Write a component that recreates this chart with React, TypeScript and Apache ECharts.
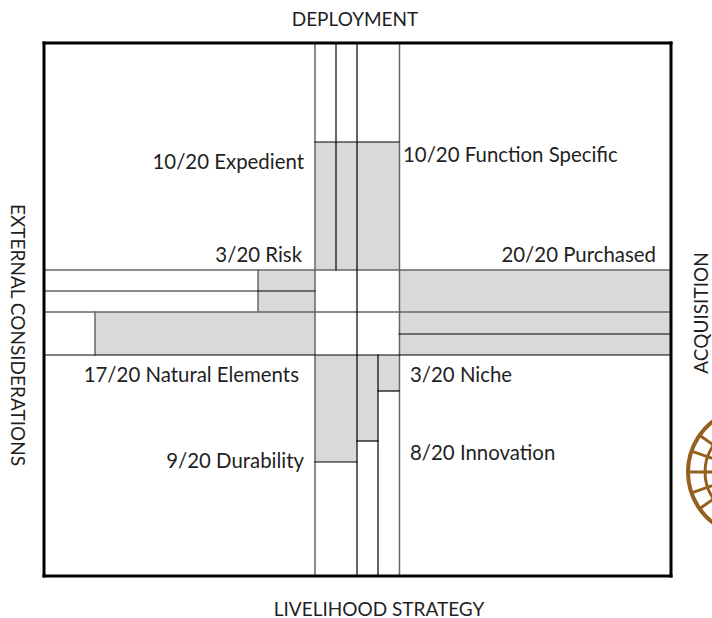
import React, { useEffect, useRef } from "react";
import * as echarts from "echarts";

const FONT = "Lato, 'Open Sans', sans-serif";

// All values in chart units: x runs 0..627 across the frame, y runs 0..533 downward.
const X_MAX = 627;
const Y_MAX = 533;

// shaded cells: [x0, y0, x1, y1]
const expedientCells = [
  [271, 99, 292, 227],
  [292, 99, 313, 227],
];
const functionSpecificCells = [[313, 99, 355, 227]];
const riskCells = [[214, 227, 271, 269]];
const naturalElementsCells = [[51, 269, 271, 312]];
const purchasedCells = [[355, 227, 627, 312]];
const durabilityCells = [[271, 312, 313, 419]];
const innovationCells = [[313, 312, 334, 398]];
const nicheCells = [[334, 312, 355, 348]];
const shadedCells = [
  ...expedientCells,
  ...functionSpecificCells,
  ...riskCells,
  ...naturalElementsCells,
  ...purchasedCells,
  ...durabilityCells,
  ...innovationCells,
  ...nicheCells,
];

// grey rules: [x0, y0, x1, y1]
const greyRules = [
  [271, 0, 271, 533],
  [355.5, 0, 355.5, 533],
  [0, 227, 627, 227],
  [0, 269, 627, 269],
  [0, 248, 214, 248],
  [214, 227, 214, 269],
  [51, 269, 51, 312],
];
// dark rules: [x0, y0, x1, y1]
const darkRules = [
  [292, 0, 292, 227],
  [313, 0, 313, 533],
  [334, 312, 334, 533],
  [271, 99, 355, 99],
  [214, 248, 271, 248],
  [355, 291, 627, 291],
  [0, 312, 627, 312],
  [271, 419, 313, 419],
  [313, 398, 334, 398],
  [334, 348, 355, 348],
];
const frameRules = [
  [0, 0, 627, 0],
  [627, 0, 627, 533],
  [627, 533, 0, 533],
  [0, 533, 0, 0],
];

// labels: [text, x, y, align]
const scoreLabels: [string, number, number, string][] = [
  ["10/20 Expedient", 260, 118, "right"],
  ["10/20 Function Specific", 359, 111, "left"],
  ["3/20 Risk", 258, 211, "right"],
  ["20/20 Purchased", 612, 211, "right"],
  ["17/20 Natural Elements", 255, 331, "right"],
  ["3/20 Niche", 366, 331, "left"],
  ["9/20 Durability", 260, 417, "right"],
  ["8/20 Innovation", 366, 409, "left"],
];

// emblem, clipped by the page edge
const emblemCenter = [752, 472];
const emblemRings = [64, 47];
const emblemSpokeAngles = [180, 161, 145, 128, 199, 215, 232];

function rectSeries(data: number[][], fill: string) {
  return {
    type: "custom",
    silent: true,
    data,
    encode: { x: [0, 2], y: [1, 3] },
    renderItem: (_: any, api: any) => {
      const a = api.coord([api.value(0), api.value(1)]);
      const b = api.coord([api.value(2), api.value(3)]);
      return { type: "rect", shape: { x: a[0], y: a[1], width: b[0] - a[0], height: b[1] - a[1] }, style: { fill } };
    },
  };
}

function ruleSeries(data: number[][], stroke: string, lineWidth: number) {
  return {
    type: "custom",
    silent: true,
    clip: false,
    data,
    encode: { x: [0, 2], y: [1, 3] },
    renderItem: (_: any, api: any) => {
      const a = api.coord([api.value(0), api.value(1)]);
      const b = api.coord([api.value(2), api.value(3)]);
      return {
        type: "line",
        shape: { x1: a[0], y1: a[1], x2: b[0], y2: b[1] },
        style: { stroke, lineWidth, lineCap: "square" },
      };
    },
  };
}

export default function App() {
  const ref = useRef<HTMLDivElement>(null);
  useEffect(() => {
    const chart = echarts.init(ref.current!, null, { renderer: "svg" });
    const fill = "#1f1f1f";
    const capsStyle = { fontFamily: FONT, fontSize: 19, fill };
    const labelStyle = { fontFamily: FONT, fontSize: 20.4, fill };
    const emblemColor = "#93601f";
    const [cx, cy] = emblemCenter;
    const emblem: any[] = [
      ...emblemRings.map((r, i) => ({
        type: "circle",
        shape: { cx, cy, r },
        style: { fill: "none", stroke: emblemColor, lineWidth: i === 0 ? 4 : 3 },
      })),
      ...emblemSpokeAngles.map((deg) => {
        const t = (deg * Math.PI) / 180;
        return {
          type: "line",
          shape: {
            x1: cx + 64 * Math.cos(t),
            y1: cy + 64 * Math.sin(t),
            x2: cx + 30 * Math.cos(t),
            y2: cy + 30 * Math.sin(t),
          },
          style: { stroke: emblemColor, lineWidth: 3 },
        };
      }),
    ];
    chart.setOption({
      animation: false,
      backgroundColor: "#ffffff",
      grid: { left: 44, top: 43, width: X_MAX, height: Y_MAX, show: false },
      xAxis: { type: "value", min: 0, max: X_MAX, show: false },
      yAxis: { type: "value", min: 0, max: Y_MAX, inverse: true, show: false },
      series: [
        rectSeries(shadedCells, "#d9d9d9"),
        ruleSeries(greyRules, "#666666", 1.5),
        ruleSeries(darkRules, "#000000", 1.2),
        ruleSeries(frameRules, "#000000", 3),
      ],
      graphic: [
        {
          type: "text",
          x: 355,
          y: 18,
          style: { ...capsStyle, text: "DEPLOYMENT", align: "center", verticalAlign: "middle" },
        },
        {
          type: "text",
          x: 379,
          y: 608,
          style: { ...capsStyle, text: "LIVELIHOOD STRATEGY", align: "center", verticalAlign: "middle" },
        },
        {
          type: "text",
          x: 18,
          y: 335,
          rotation: -Math.PI / 2,
          style: { ...capsStyle, text: "EXTERNAL CONSIDERATIONS", align: "center", verticalAlign: "middle" },
        },
        {
          type: "text",
          x: 700,
          y: 313,
          rotation: Math.PI / 2,
          style: { ...capsStyle, text: "ACQUISITION", align: "center", verticalAlign: "middle" },
        },
        ...scoreLabels.map(([text, x, y, align]) => ({
          type: "text",
          x: x + 44,
          y: y + 43,
          style: { ...labelStyle, text, align, verticalAlign: "middle" },
        })),
        ...emblem,
      ],
    });
    return () => chart.dispose();
  }, []);
  return <div ref={ref} style={{ position: "fixed", left: 0, top: 0, width: 712, height: 618 }} />;
}
